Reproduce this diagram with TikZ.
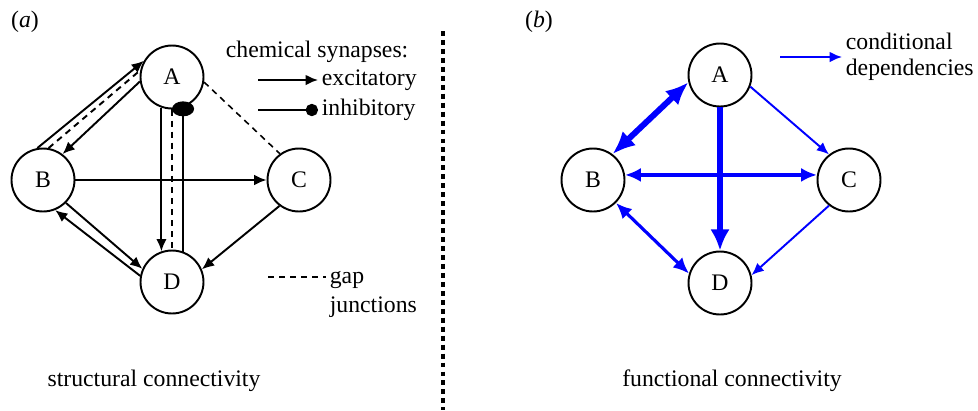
\documentclass[tikz,border=0pt]{standalone}
\usepackage{fontspec}
\setmainfont{Liberation Serif}
\usetikzlibrary{arrows.meta,positioning}

\begin{document}
\begin{tikzpicture}[x=0.02cm, y=-0.02cm, font=\fontsize{13.5}{15}\selectfont]
    % Define styles
    \tikzstyle{neuron} = [circle, draw=black, line width=1.1pt, minimum size=1.26cm, inner sep=0pt, fill=white]
    \tikzstyle{arrow} = [line width=1.1pt, -{Latex[length=7pt, width=6pt]}]
    \tikzstyle{inhib} = [line width=1.1pt, -{Circle[length=8.5pt, width=12.5pt]}, shorten >=-3.5pt]
    \tikzstyle{inhibkey} = [line width=1.1pt, -{Circle[length=7pt]}]
    \tikzstyle{gap} = [line width=1.1pt, dash pattern=on 3.5pt off 2.8pt]
    \tikzstyle{cond} = [draw=blue, line width=1.1pt, -{Latex[length=7pt, width=6pt]}]
    \tikzstyle{condmid} = [draw=blue, line width=1.8pt, {Latex[length=9pt, width=8pt]}-{Latex[length=9pt, width=8pt]}]
    \tikzstyle{condbig} = [draw=blue, line width=3.4pt, {Latex[length=13pt, width=11pt]}-{Latex[length=13pt, width=11pt]}]
    \tikzstyle{condone} = [draw=blue, line width=3pt, -{Latex[length=12pt, width=11pt]}]
    \tikzstyle{legend} = [anchor=west, inner sep=2pt]

    \useasboundingbox (0,0) rectangle (978,410);

    % Structural connectivity
    \node at (25,22) {(\textit{a})};
    \node [neuron] (sA) at (172,77) {A};
    \node [neuron] (sB) at (43,180) {B};
    \node [neuron] (sC) at (299,180) {C};
    \node [neuron] (sD) at (172,282) {D};

    \draw [arrow] (sB.100) -- (sA.150);
    \draw [gap] (sB.80) -- (sA.168);
    \draw [arrow] (sA.188) -- (sB.53);
    \draw [arrow] (sA.251) -- (sD.109);
    \draw [gap] (sA.270) -- (sD.90);
    \draw [inhib] (sD.70) -- (sA.290);
    \draw [arrow] (sB) -- (sC);
    \draw [gap, line width=0.9pt] (sA.351) -- (sC.126);
    \draw [arrow] (sC.233) -- (sD.23);
    \draw [arrow] (sD.169) -- (sB.292);
    \draw [arrow] (sB.315) -- (sD.156);

    % Legend (a)
    \node [legend] (chem) at (222,52) {chemical synapses:};
    \node [legend] (exc) at (318,80) {excitatory};
    \node [legend] (inh) at (318,110) {inhibitory};
    \coordinate (excstart) at (258,80);
    \coordinate (inhstart) at (258,110);
    \draw [arrow] (excstart) -- (exc.west);
    \draw [inhibkey] (inhstart) -- (inh.west);
    \node [legend] (gapj) at (326,280) {gap};
    \node [legend, below=0pt of gapj.south west, anchor=north west] (junc) {junctions};
    \coordinate (gapstart) at (268,277);
    \draw [gap] (gapstart) -- (gapstart -| gapj.west);
    \node (structural) at (154,381) {structural connectivity};

    % Separator
    \draw [line width=2.8pt, dash pattern=on 2.8pt off 2.3pt] (443,31) -- (443,410);

    % Functional connectivity
    \node at (539,22) {(\textit{b})};
    \node [neuron] (fA) at (720,75) {A};
    \node [neuron] (fB) at (593,180) {B};
    \node [neuron] (fC) at (849,180) {C};
    \node [neuron] (fD) at (720,283) {D};

    \draw [condbig] (fB.53) -- (fA.193);
    \draw [condone] (fA) -- (fD);
    \draw [cond] (fA.339) -- (fC.128);
    \draw [condmid] (fB.9) -- (fC.171);
    \draw [condmid] (fB.315) -- (fD.163);
    \draw [cond] (fC.232) -- (fD.14);

    % Legend (b)
    \coordinate (condstart) at (780,57);
    \node [legend, align=left] (condtxt) at (842,57) {conditional\\dependencies};
    \draw [cond] (condstart) -- (condtxt.west);
    \node (functional) at (732,381) {functional connectivity};
\end{tikzpicture}
\end{document}
